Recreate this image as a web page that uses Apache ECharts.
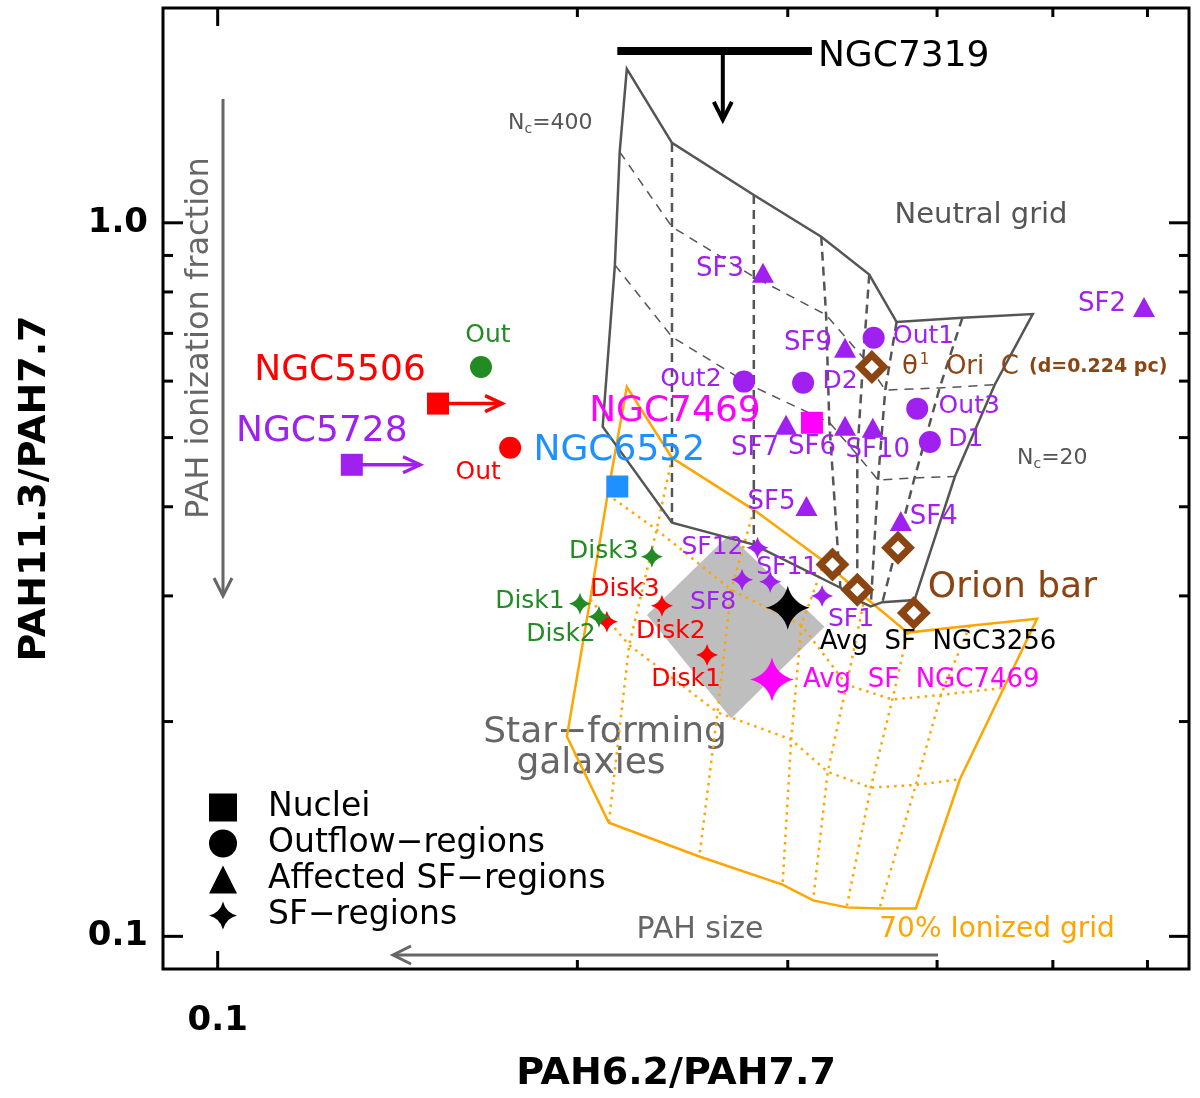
<!DOCTYPE html>
<html><head><meta charset="utf-8">
<script src="https://cdn.jsdelivr.net/npm/echarts@6/dist/echarts.min.js"></script>
<style>html,body{margin:0;padding:0;background:#fff}#c{width:1200px;height:1098px}</style>
</head><body><div id="c"></div>
<script>
// ---------------- axis ranges & ticks ----------------
const xRange = [0.09, 0.65];
const yRange = [0.09, 2.0];
const xMajorTicks = [0.1];
const xMinorTicks = [0.2, 0.3, 0.4, 0.5, 0.6];
const yMajorTicks = [0.1, 1.0];
const yMinorTicks = [0.2, 0.3, 0.4, 0.5, 0.6, 0.7, 0.8, 0.9];
const xTickLabels = ['0.1'];
const yTickLabels = ['0.1', '1.0'];

// ---------------- model grids (rows of [x,y]) ----------------
const neutralGrid = [
  [[0.220,1.643],[0.240,1.294],[0.281,1.094],[0.320,0.956],[0.351,0.846],[0.370,0.726],[0.420,0.736],[0.481,0.745]],
  [[0.217,1.257],[0.240,0.987],[0.281,0.840],[0.323,0.743],[0.347,0.647],[0.362,0.583],[0.402,0.587],[0.447,0.593]],
  [[0.215,0.873],[0.240,0.692],[0.281,0.589],[0.325,0.525],[0.343,0.473],[0.357,0.436],[0.383,0.439],[0.414,0.441]],
  [[0.210,0.518],[0.240,0.380],[0.281,0.354],[0.332,0.308],[0.343,0.296],[0.352,0.290],[0.360,0.294],[0.383,0.296]]
];
const ionizedGrid = [
  [[0.220,0.589],[0.240,0.4685],[0.281,0.396],[0.322,0.335],[0.348,0.299],[0.378,0.2665],[0.426,0.2725],[0.485,0.2787]],
  [[0.212,0.416],[0.233,0.3715],[0.269,0.306],[0.308,0.273],[0.336,0.2253],[0.367,0.2147],[0.403,0.218],[0.455,0.223]],
  [[0.205,0.2964],[0.221,0.256],[0.262,0.206],[0.302,0.1887],[0.324,0.170],[0.352,0.1616],[0.384,0.163],[0.418,0.166]],
  [[0.196,0.1905],[0.2125,0.1443],[0.253,0.1294],[0.297,0.1182],[0.315,0.1123],[0.336,0.1098],[0.358,0.1094],[0.384,0.1094]]
];
const sfGalaxyRegion = [[0.2287,0.282],[0.268,0.3655],[0.322,0.2716],[0.269,0.202]];

// ---------------- data points ----------------
const nucleiNames = ['NGC5506','NGC5728','NGC6552','NGC7469'];
const nucleiX = [0.1529, 0.1295, 0.216, 0.3143];
const nucleiY = [0.558, 0.458, 0.427, 0.5245];
const limitNames = ['NGC5506','NGC5728'];
const limitX = [0.1529, 0.1295];
const limitArrowX = [0.173, 0.1477];
const limitY = [0.558, 0.458];
const ngc7319X = 0.2647, ngc7319XRange = [0.216, 0.3143], ngc7319Y = 1.741, ngc7319ArrowY = 1.394;

const outflowNames = ['Out1','Out2','D2','Out3','D1','Out','Out'];
const outflowX = [0.354, 0.2757, 0.309, 0.385, 0.3945, 0.1661, 0.1757];
const outflowY = [0.690, 0.599, 0.597, 0.549, 0.493, 0.628, 0.484];

const affectedNames = ['SF3','SF2','SF9','SF7','SF6','SF10','SF5','SF4'];
const affectedX = [0.286, 0.596, 0.335, 0.299, 0.335, 0.3534, 0.311, 0.373];
const affectedY = [0.851, 0.762, 0.668, 0.521, 0.5195, 0.516, 0.401, 0.382];

const sfNames = ['SF12','SF8','SF11','SF1','Disk3','Disk1','Disk2','Disk3','Disk1','Disk2'];
const sfX = [0.283, 0.2747, 0.290, 0.3205, 0.2354, 0.2568, 0.2117, 0.2309, 0.201, 0.2085];
const sfY = [0.3505, 0.316, 0.314, 0.300, 0.2906, 0.248, 0.276, 0.3405, 0.2925, 0.2805];

const avgNames = ['Avg  SF  NGC3256', 'Avg  SF  NGC7469'];
const avgX = [0.300, 0.291];
const avgY = [0.2888, 0.229];

const orionNames = ['θ1 Ori C', '', '', '', 'Orion bar'];
const orionX = [0.3528, 0.327, 0.343, 0.371, 0.3825];
const orionY = [0.628, 0.332, 0.306, 0.3505, 0.284];

// ---------------- styles (colors, label offsets) ----------------
const FONT = 'DejaVu Sans';
const COL = {purple:'#A020F0', red:'#FF0000', green:'#228B22', blue:'#1E90FF', magenta:'#FF00FF',
  brown:'#8B4513', orange:'#FFA500', grid:'#555555', text:'#666666', black:'#000000'};
const nucleiColors = [COL.red, COL.purple, COL.blue, COL.magenta];
const nucleiOff = [[-98,-33],[-30,-33],[2,-36],[-137,-11]];
const outflowColors = [COL.purple, COL.purple, COL.purple, COL.purple, COL.purple, COL.green, COL.red];
const outflowOff = [[50,-1],[-53,-2],[37,-1],[52,-2],[36,-2],[7,-31],[-32,25]];
const affectedOff = [[-43,-4],[-42,-3],[-37,-5],[-31,23],[-33,22],[5,22],[-35,-4],[33,-4]];
const sfColors = [COL.purple,COL.purple,COL.purple,COL.purple,COL.red,COL.red,COL.red,COL.green,COL.green,COL.green];
const sfOff = [[-45,0],[-29,23],[17,-14],[29,24],[-37,-16],[-21,25],[64,10],[-48,-5],[-50,-2],[-38,18]];
const avgColors = [COL.black, COL.magenta];
const avgOff = [[32,35],[31,1]];
const STAR = 'path://M50,0 Q60,40 100,50 Q60,60 50,100 Q40,60 0,50 Q40,40 50,0 Z';

function lbl(text, color, off, size, align) {
  return {show: !!text, formatter: text, position: 'inside', offset: off, color: color,
    fontSize: size || 25, fontFamily: FONT, align: align || 'center', verticalAlign: 'middle',
    textBorderWidth: 0};
}
function pts(xs, ys, names, colors, offs, size, align) {
  return xs.map((x, i) => ({value: [x, ys[i]], name: names[i],
    itemStyle: {color: colors[i], opacity: 1}, label: lbl(names[i], colors[i], offs[i], size, align)}));
}

// ---------------- render helpers ----------------
function meshRender(rows, solid, innerRow, innerCol) {
  return function (params, api) {
    const P = rows.map(r => r.map(p => api.coord(p)));
    const nR = P.length, nC = P[0].length;
    const ch = [];
    for (let i = 1; i < nR - 1; i++) ch.push({type:'polyline', shape:{points:P[i]}, style:Object.assign({fill:'none'}, innerRow)});
    for (let j = 1; j < nC - 1; j++) ch.push({type:'polyline', shape:{points:P.map(r => r[j])}, style:Object.assign({fill:'none'}, innerCol)});
    const outline = [].concat(P[0], P.slice(1).map(r => r[nC-1]), P[nR-1].slice(0, nC-1).reverse(), P.slice(1, nR-1).map(r => r[0]).reverse());
    ch.push({type:'polygon', shape:{points:outline}, style:Object.assign({fill:'none'}, solid)});
    return {type:'group', children:ch};
  };
}
function chevron(tip, dx, dy, len, half) {
  const bx = tip[0] - dx*len, by = tip[1] - dy*len;
  return [[bx - dy*half, by + dx*half], tip, [bx + dy*half, by - dx*half]];
}

const option = {
  animation: false,
  backgroundColor: '#fff',
  grid: {left:163, right:11, top:8, bottom:128, show:true, borderColor:'#000', borderWidth:3, backgroundColor:'transparent'},
  xAxis: {type:'log', logBase:10, min:xRange[0], max:xRange[1],
    axisLine:{show:false}, axisTick:{show:false}, splitLine:{show:false}, axisLabel:{show:false},
    name:'PAH6.2/PAH7.7', nameLocation:'middle', nameGap:86,
    nameTextStyle:{fontSize:38, fontWeight:'bold', color:'#000', fontFamily:FONT}},
  yAxis: {type:'log', logBase:10, min:yRange[0], max:yRange[1],
    axisLine:{show:false}, axisTick:{show:false}, splitLine:{show:false}, axisLabel:{show:false},
    name:'PAH11.3/PAH7.7', nameLocation:'middle', nameGap:109,
    nameTextStyle:{fontSize:38, fontWeight:'bold', color:'#000', fontFamily:FONT}},
  legend: {left:204, top:786, orient:'vertical', itemWidth:28, itemHeight:28, itemGap:3, selectedMode:false,
    textStyle:{fontSize:33, color:'#000', fontFamily:FONT, padding:[0,0,0,26]},
    data:[{name:'Nuclei', icon:'rect'}, {name:'Outflow−regions', icon:'circle'},
          {name:'Affected SF−regions', icon:'triangle'}, {name:'SF−regions', icon:STAR}]},
  graphic: [
    {type:'text', x:981, y:215, style:{text:'Neutral grid', fill:COL.grid, font:'29px "DejaVu Sans"', align:'center', verticalAlign:'middle'}},
    {type:'text', x:508, y:123, style:{text:'{n|N}{c|c}{n|=400}', align:'left', verticalAlign:'middle',
      rich:{n:{fontSize:22, fill:COL.grid, fontFamily:FONT}, c:{fontSize:14, fill:COL.grid, fontFamily:FONT, padding:[12,0,0,0]}}}},
    {type:'text', x:1017, y:458, style:{text:'{n|N}{c|c}{n|=20}', align:'left', verticalAlign:'middle',
      rich:{n:{fontSize:22, fill:COL.grid, fontFamily:FONT}, c:{fontSize:14, fill:COL.grid, fontFamily:FONT, padding:[12,0,0,0]}}}},
    {type:'text', x:605, y:733, style:{text:'Star−forming', fill:COL.text, font:'36px "DejaVu Sans"', align:'center', verticalAlign:'middle'}},
    {type:'text', x:591, y:764, style:{text:'galaxies', fill:COL.text, font:'36px "DejaVu Sans"', align:'center', verticalAlign:'middle'}},
    {type:'text', x:997, y:930, style:{text:'70% Ionized grid', fill:COL.orange, font:'28px "DejaVu Sans"', align:'center', verticalAlign:'middle'}},
    {type:'text', x:700, y:930, style:{text:'PAH size', fill:COL.text, font:'30px "DejaVu Sans"', align:'center', verticalAlign:'middle'}},
    {type:'polyline', shape:{points:[[938,955],[393,955]]}, style:{stroke:COL.text, lineWidth:3, fill:'none'}},
    {type:'polyline', shape:{points:[[411,946],[393,955],[411,964]]}, style:{stroke:COL.text, lineWidth:3, fill:'none'}},
    {type:'text', x:200, y:338, rotation:Math.PI/2, style:{text:'PAH ionization fraction', fill:COL.text, font:'32px "DejaVu Sans"', align:'center', verticalAlign:'middle'}},
    {type:'polyline', shape:{points:[[223,99],[223,596]]}, style:{stroke:COL.text, lineWidth:3, fill:'none'}},
    {type:'polyline', shape:{points:[[214,578],[223,596],[232,578]]}, style:{stroke:COL.text, lineWidth:3, fill:'none'}}
  ],
  series: [
    {type:'custom', name:'sfgal', z:1, silent:true, data:[[0.27,0.28]],
      renderItem: (params, api) => ({type:'polygon', shape:{points: sfGalaxyRegion.map(p => api.coord(p))},
        style:{fill:'#BEBEBE', stroke:'none'}})},
    {type:'custom', name:'ionized', z:2, silent:true, data:[[0.3,0.2]],
      renderItem: meshRender(ionizedGrid, {stroke:COL.orange, lineWidth:2.5},
        {stroke:COL.orange, lineWidth:2.5, lineDash:[2.5,5]}, {stroke:COL.orange, lineWidth:2.5, lineDash:[2.5,5]})},
    {type:'custom', name:'neutral', z:3, silent:true, data:[[0.3,0.6]],
      renderItem: meshRender(neutralGrid, {stroke:COL.grid, lineWidth:2.5},
        {stroke:COL.grid, lineWidth:1.5, lineDash:[9,7]}, {stroke:COL.grid, lineWidth:2.5, lineDash:[9,6]})},
    {type:'custom', name:'limits', z:4, silent:true, data:[[0.2,0.5]],
      renderItem: (params, api) => {
        const ch = [];
        limitX.forEach((x, i) => {
          const p0 = api.coord([x, limitY[i]]), p1 = api.coord([limitArrowX[i], limitY[i]]);
          const c = nucleiColors[nucleiNames.indexOf(limitNames[i])];
          ch.push({type:'polyline', shape:{points:[p0, p1]}, style:{stroke:c, lineWidth:3.5, fill:'none'}});
          ch.push({type:'polyline', shape:{points:chevron(p1, 1, 0, 17, 8)}, style:{stroke:c, lineWidth:3.5, fill:'none'}});
        });
        const a = api.coord([ngc7319XRange[0], ngc7319Y]), b = api.coord([ngc7319XRange[1], ngc7319Y]);
        const c0 = api.coord([ngc7319X, ngc7319Y]), d = api.coord([ngc7319X, ngc7319ArrowY]);
        ch.push({type:'polyline', shape:{points:[a, b]}, style:{stroke:'#000', lineWidth:8, fill:'none'}});
        ch.push({type:'polyline', shape:{points:[c0, d]}, style:{stroke:'#000', lineWidth:4, fill:'none'}});
        ch.push({type:'polyline', shape:{points:chevron(d, 0, 1, 18, 9)}, style:{stroke:'#000', lineWidth:4, fill:'none'}});
        ch.push({type:'text', style:{text:'NGC7319', x:b[0]+6, y:c0[1]+6, fill:'#000', fontSize:36, fontFamily:FONT, align:'left', verticalAlign:'middle'}});
        return {type:'group', children:ch};
      }},
    {type:'custom', name:'ticks', z:6, silent:true, data:[[0.2,0.5]],
      renderItem: (params, api) => {
        const ch = [];
        const st = {stroke:'#000', lineWidth:3, fill:'none'};
        const addX = (v, L) => {
          const b = api.coord([v, yRange[0]]), t = api.coord([v, yRange[1]]);
          ch.push({type:'polyline', shape:{points:[b, [b[0], b[1]-L]]}, style:st});
          ch.push({type:'polyline', shape:{points:[t, [t[0], t[1]+L]]}, style:st});
        };
        const addY = (v, L) => {
          const l = api.coord([xRange[0], v]), r = api.coord([xRange[1], v]);
          ch.push({type:'polyline', shape:{points:[l, [l[0]+L, l[1]]]}, style:st});
          ch.push({type:'polyline', shape:{points:[r, [r[0]-L, r[1]]]}, style:st});
        };
        xMajorTicks.forEach(v => addX(v, 18));
        xMinorTicks.forEach(v => addX(v, 9));
        yMajorTicks.forEach(v => addY(v, 20));
        yMinorTicks.forEach(v => addY(v, 10));
        xMajorTicks.forEach((v, i) => {
          const b = api.coord([v, yRange[0]]);
          ch.push({type:'text', style:{text:xTickLabels[i], x:b[0], y:b[1]+52, fill:'#000', fontSize:34, fontWeight:'bold', fontFamily:FONT, align:'center', verticalAlign:'middle'}});
        });
        yMajorTicks.forEach((v, i) => {
          const l = api.coord([xRange[0], v]);
          ch.push({type:'text', style:{text:yTickLabels[i], x:l[0]-15, y:l[1], fill:'#000', fontSize:34, fontWeight:'bold', fontFamily:FONT, align:'right', verticalAlign:'middle'}});
        });
        return {type:'group', children:ch};
      }},
    {type:'scatter', name:'nuclei', z:5, symbol:'rect', symbolSize:22, itemStyle:{opacity:1},
      data: pts(nucleiX, nucleiY, nucleiNames, nucleiColors, nucleiOff, 36)},
    {type:'scatter', name:'outflow', z:5, symbol:'circle', symbolSize:22, itemStyle:{opacity:1},
      data: pts(outflowX, outflowY, outflowNames, outflowColors, outflowOff, 25)},
    {type:'scatter', name:'affected', z:5, symbol:'triangle', symbolSize:[22,20], itemStyle:{opacity:1},
      data: pts(affectedX, affectedY, affectedNames, affectedNames.map(() => COL.purple), affectedOff, 26)},
    {type:'scatter', name:'sf', z:5, symbol:STAR, symbolSize:22, itemStyle:{opacity:1},
      data: pts(sfX, sfY, sfNames, sfColors, sfOff, 25)},
    {type:'scatter', name:'avg', z:5, symbol:STAR, symbolSize:44, itemStyle:{opacity:1},
      data: pts(avgX, avgY, avgNames, avgColors, avgOff, 26, 'left')},
    {type:'scatter', name:'orion', z:5, symbol:'diamond', symbolSize:24,
      itemStyle:{color:'#fff', borderColor:COL.brown, borderWidth:7, opacity:1},
      data: orionX.map((x, i) => {
        const it = {value:[x, orionY[i]], name:orionNames[i]};
        if (i === 0) it.label = {show:true, position:'inside', offset:[30,0], align:'left', verticalAlign:'middle', textBorderWidth:0,
          formatter:'{t|θ}{s|1}{t|  Ori  C}   {d|(d=0.224 pc)}',
          rich:{t:{fontSize:26, color:COL.brown, fontFamily:FONT}, s:{fontSize:15, color:COL.brown, fontFamily:FONT, padding:[0,0,14,2]},
                d:{fontSize:19, fontWeight:'bold', color:COL.brown, fontFamily:FONT}}};
        else if (orionNames[i]) it.label = lbl(orionNames[i], COL.brown, [14,-25], 36, 'left');
        return it;
      })},
    {type:'scatter', name:'Nuclei', symbol:'rect', itemStyle:{color:'#000', opacity:1}, data:[]},
    {type:'scatter', name:'Outflow−regions', symbol:'circle', itemStyle:{color:'#000', opacity:1}, data:[]},
    {type:'scatter', name:'Affected SF−regions', symbol:'triangle', itemStyle:{color:'#000', opacity:1}, data:[]},
    {type:'scatter', name:'SF−regions', symbol:STAR, itemStyle:{color:'#000', opacity:1}, data:[]}
  ]
};
const chart = echarts.init(document.getElementById('c'));
chart.setOption(option);
</script>
</body></html>
